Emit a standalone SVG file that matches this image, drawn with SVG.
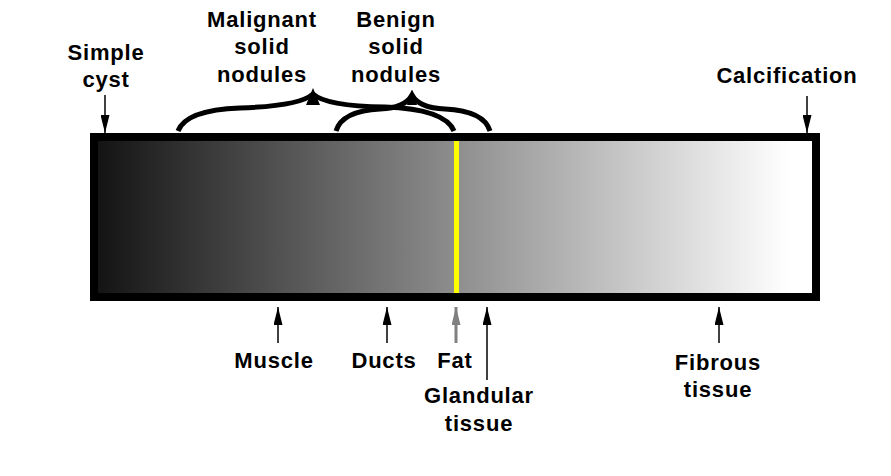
<svg xmlns="http://www.w3.org/2000/svg" width="891" height="476" viewBox="0 0 891 476">
<defs>
<linearGradient id="g" gradientUnits="userSpaceOnUse" x1="98" y1="0" x2="790" y2="0">
<stop offset="0" stop-color="#141414"/>
<stop offset="1" stop-color="#ffffff"/>
</linearGradient>
<marker id="ah" markerUnits="userSpaceOnUse" markerWidth="20" markerHeight="9" refX="20" refY="5" orient="auto" viewBox="0 0 20 10">
<path d="M0,0 L20,5 L0,10 Z" fill="#000"/>
</marker>
<marker id="ahg" markerUnits="userSpaceOnUse" markerWidth="20" markerHeight="9" refX="20" refY="5" orient="auto" viewBox="0 0 20 10">
<path d="M0,0 L20,5 L0,10 Z" fill="#808080"/>
</marker>
</defs>
<style>
text{font-family:"Liberation Sans",Arial,sans-serif;font-weight:bold;font-size:22px;fill:#000;text-anchor:middle;letter-spacing:0.8px}
.ln{stroke:#000;stroke-width:1.5;fill:none}
.br{stroke:#000;stroke-width:5;fill:none;stroke-linecap:butt}
</style>
<rect width="891" height="476" fill="#fff"/>
<g id="bar">
<rect x="94" y="137" width="722" height="160" fill="url(#g)" stroke="#000" stroke-width="8"/>
<rect x="454" y="141" width="5" height="152" fill="#ffff00"/>
</g>
<g id="connectors">
<path class="br" d="M178,131 Q186,110 240,108 Q300,106 313,94 Q326,106 385,107 Q445,109 454,131"/>
<path d="M313,88 L306,105 L320,105 Z" fill="#000"/>
<path class="br" d="M336,131 Q342,111 380,109 Q405,108 412,95 Q419,108 445,109 Q484,111 490,131"/>
<path d="M412,90 L407,105 L417,105 Z" fill="#000"/>
<line class="ln" x1="105" y1="95" x2="105" y2="133" marker-end="url(#ah)"/>
<line class="ln" x1="807" y1="96" x2="807" y2="133" marker-end="url(#ah)"/>
<line class="ln" x1="278" y1="343" x2="278" y2="307" marker-end="url(#ah)"/>
<line class="ln" x1="387" y1="343" x2="387" y2="307" marker-end="url(#ah)"/>
<line x1="456" y1="343" x2="456" y2="307" stroke="#808080" stroke-width="3" marker-end="url(#ahg)"/>
<line class="ln" x1="487" y1="380" x2="487" y2="307" marker-end="url(#ah)"/>
<line class="ln" x1="719" y1="343" x2="719" y2="307" marker-end="url(#ah)"/>
</g>
<g id="simple-cyst"><text x="106" y="60">Simple</text><text x="106" y="87">cyst</text></g>
<g id="malignant"><text x="262" y="27">Malignant</text><text x="262" y="54">solid</text><text x="262" y="82">nodules</text></g>
<g id="benign"><text x="396" y="27">Benign</text><text x="396" y="54">solid</text><text x="396" y="82">nodules</text></g>
<g id="calcification"><text x="787" y="83">Calcification</text></g>
<g id="muscle"><text x="274" y="368">Muscle</text></g>
<g id="ducts"><text x="384" y="368">Ducts</text></g>
<g id="fat"><text x="455" y="368">Fat</text></g>
<g id="glandular"><text x="479" y="403">Glandular</text><text x="479" y="431">tissue</text></g>
<g id="fibrous"><text x="718" y="370">Fibrous</text><text x="718" y="397">tissue</text></g>
</svg>
